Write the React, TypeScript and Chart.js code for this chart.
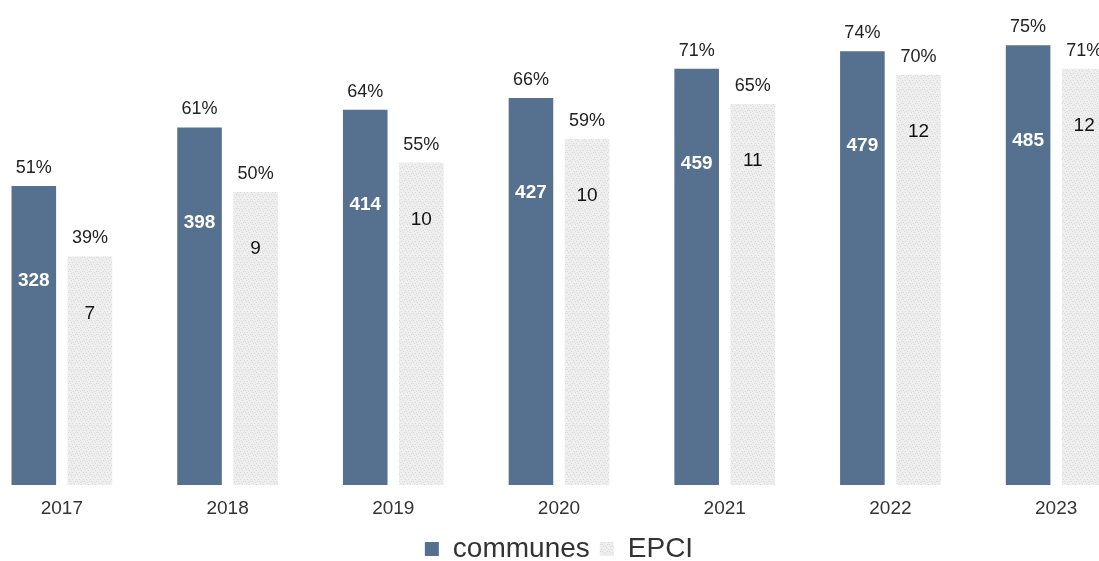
import React, { useEffect, useRef } from "react";
import { Chart, registerables } from "chart.js";

Chart.register(...registerables);

const years = ["2017", "2018", "2019", "2020", "2021", "2022", "2023"];
const communesPct = [51, 61, 64, 66, 71, 74, 75];
const epciPct = [39, 50, 55, 59, 65, 70, 71];
const communesCount = [328, 398, 414, 427, 459, 479, 485];
const epciCount = [7, 9, 10, 10, 11, 12, 12];

const FONT = '"Liberation Sans", Arial, sans-serif';
const BLUE = "#56708f";
const GREY = "#ebebeb";

function makeSpeckle(): CanvasPattern | string {
  const c = document.createElement("canvas");
  c.width = 7;
  c.height = 7;
  const g = c.getContext("2d");
  if (!g) return GREY;
  g.fillStyle = "#eeeeee";
  g.fillRect(0, 0, 7, 7);
  g.fillStyle = "#d9d9d9";
  const dots = [
    [1, 0], [4, 1], [6, 3], [2, 3], [0, 5], [5, 5], [3, 6],
  ];
  dots.forEach(([x, y]) => g.fillRect(x, y, 1, 1));
  const p = g.createPattern(c, "repeat");
  return p || GREY;
}

const labelPlugin = {
  id: "barLabels",
  afterDatasetsDraw(chart: any) {
    const ctx = chart.ctx;
    ctx.save();
    ctx.textAlign = "center";
    ctx.textBaseline = "middle";
    chart.data.datasets.forEach((ds: any, di: number) => {
      const meta = chart.getDatasetMeta(di);
      const counts = di === 0 ? communesCount : epciCount;
      meta.data.forEach((bar: any, i: number) => {
        ctx.font = `18px ${FONT}`;
        ctx.fillStyle = "#222222";
        ctx.fillText(`${ds.data[i]}%`, bar.x, bar.y - 18);
        if (di === 0) {
          ctx.font = `bold 19px ${FONT}`;
          ctx.fillStyle = "#ffffff";
          ctx.fillText(String(counts[i]), bar.x, bar.y + 95);
        } else {
          ctx.font = `19px ${FONT}`;
          ctx.fillStyle = "#111111";
          ctx.fillText(String(counts[i]), bar.x, bar.y + 57);
        }
      });
    });
    ctx.restore();
  },
};

// pull the legend slightly closer to the axis labels
const legendShift = {
  id: "legendShift",
  afterLayout(chart: any) {
    if (chart.legend) {
      chart.legend.top -= 8;
      chart.legend.bottom -= 8;
    }
  },
};

export default function App() {
  const ref = useRef<HTMLCanvasElement | null>(null);

  useEffect(() => {
    if (!ref.current) return;
    const epciFill = makeSpeckle();
    const chart = new Chart(ref.current, {
      type: "bar",
      data: {
        labels: years,
        datasets: [
          {
            label: "communes",
            data: communesPct,
            backgroundColor: BLUE,
            categoryPercentage: 0.677,
            barPercentage: 0.795,
          },
          {
            label: "EPCI",
            data: epciPct,
            backgroundColor: epciFill as any,
            categoryPercentage: 0.677,
            barPercentage: 0.795,
          },
        ],
      },
      options: {
        animation: false,
        responsive: false,
        devicePixelRatio: 1,
        layout: { padding: { top: 16, left: 0, right: 0, bottom: 0 } },
        scales: {
          x: {
            grid: { display: false, drawTicks: false },
            border: { display: false },
            ticks: {
              color: "#333333",
              font: { family: FONT, size: 19 },
              padding: 12.6,
            },
          },
          y: {
            display: false,
            min: 0,
            max: 80,
          },
        },
        plugins: {
          tooltip: { enabled: false },
          legend: {
            position: "bottom",
            labels: {
              boxWidth: 14,
              boxHeight: 14,
              padding: 10,
              color: "#333333",
              font: { family: FONT, size: 28 },
            },
          },
        },
      },
      plugins: [labelPlugin, legendShift],
    });
    return () => chart.destroy();
  }, []);

  return (
    <div
      style={{
        position: "fixed",
        left: 0,
        top: 0,
        width: 1099,
        height: 561,
        overflow: "hidden",
        background: "#ffffff",
      }}
    >
      <canvas
        ref={ref}
        width={1160}
        height={581}
        style={{ position: "absolute", left: -21, top: 0, width: 1160, height: 581 }}
      />
    </div>
  );
}
